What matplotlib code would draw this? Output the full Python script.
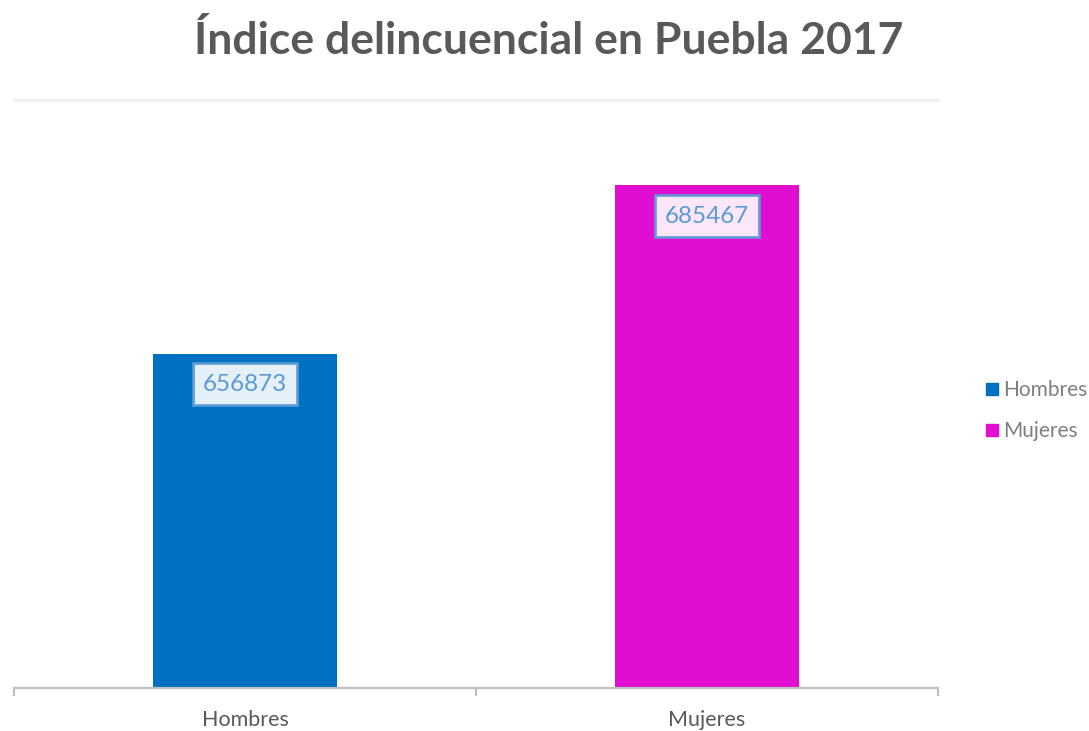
import matplotlib
matplotlib.use("Agg")
import matplotlib.pyplot as plt
from matplotlib.patches import Patch

# data
categories = ["Hombres", "Mujeres"]
values = [656873, 685467]
colors = ["#0070c0", "#e10ed2"]
y_min, y_max = 600000, 700000

plt.rcParams['font.family'] = ['Lato', 'DejaVu Sans']

fig = plt.figure(figsize=(10.89, 7.31), dpi=100)
ax = fig.add_axes([0.0129, 0.0588, 0.8485, 0.8044])

x = range(len(categories))
bars = ax.bar(x, values, width=0.4, color=colors, zorder=2)

ax.set_xlim(-0.5, len(categories) - 0.5)
ax.set_ylim(y_min, y_max)

# only the top gridline shows in the reference
ax.axhline(y_max, color="#efefef", lw=2, zorder=1, clip_on=False)

for side in ["top", "right", "left"]:
    ax.spines[side].set_visible(False)
ax.spines["bottom"].set_color("#bfbfbf")
ax.spines["bottom"].set_linewidth(1.6)
ax.set_yticks([])

# category boundaries as ticks, labels at centers
ax.set_xticks([-0.5, 0.5, 1.5])
ax.set_xticklabels([])
ax.tick_params(axis="x", length=6, width=1.6, color="#bfbfbf")
ax.set_xticks(list(x), minor=True)
ax.set_xticklabels(categories, minor=True, fontsize=15.5, color="#595959")
ax.tick_params(axis="x", which="minor", length=0, pad=16)

# value labels inside bar tops
for b, v in zip(bars, values):
    ax.annotate(str(v), (b.get_x() + b.get_width() / 2, v),
                xytext=(0, -22), textcoords="offset points",
                ha="center", va="center", fontsize=17.5, color="#5b9bd5",
                bbox=dict(boxstyle="square,pad=0.42", fc="white", alpha=0.9,
                          ec="#5b9bd5", lw=2), zorder=3)

fig.suptitle("Índice delincuencial en Puebla 2017", x=0.504, y=0.972,
             fontsize=32, fontweight="bold", color="#595959")

handles = [Patch(color=c, label=l) for c, l in zip(colors, categories)]
leg = fig.legend(handles=handles, loc="center left",
                 bbox_to_anchor=(0.896, 0.438), frameon=False,
                 fontsize=15, handlelength=0.55, handleheight=0.55,
                 handletextpad=0.25, labelspacing=1.0, borderpad=0)
for t in leg.get_texts():
    t.set_color("#7f7f7f")

fig.savefig("out.png", dpi=100, facecolor="white")
